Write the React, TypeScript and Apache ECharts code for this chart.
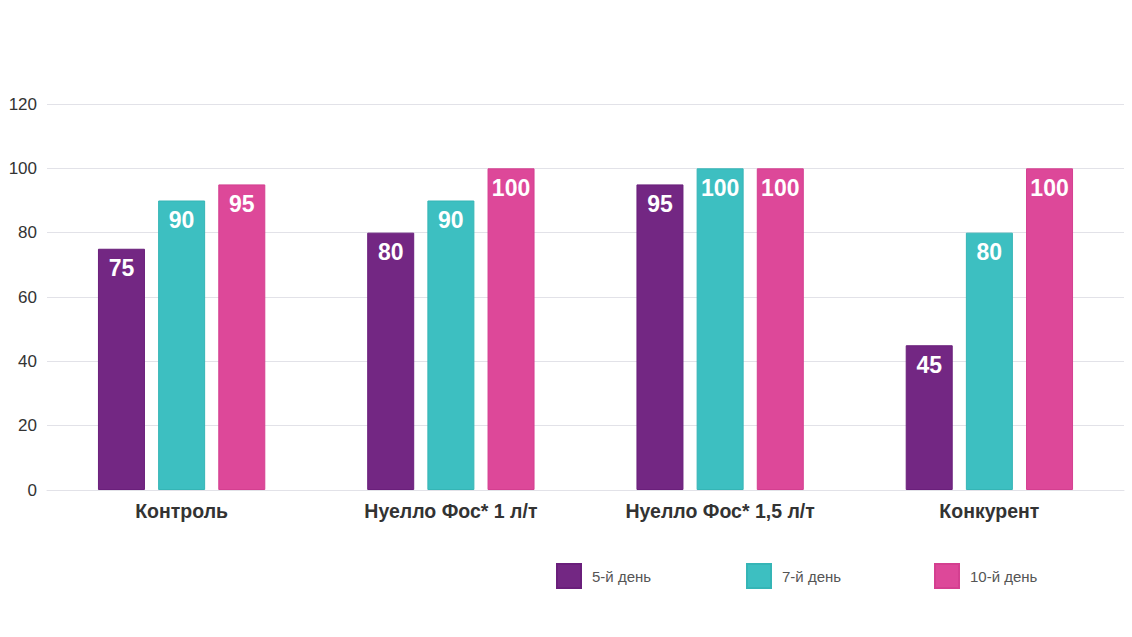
import React, { useEffect, useRef } from "react";
import * as echarts from "echarts";

const categories = ["Контроль", "Нуелло Фос* 1 л/т", "Нуелло Фос* 1,5 л/т", "Конкурент"];
const seriesNames = ["5-й день", "7-й день", "10-й день"];
const day5 = [75, 80, 95, 45];
const day7 = [90, 90, 100, 80];
const day10 = [95, 100, 100, 100];
const colors = ["#732783", "#3dbfc1", "#dd4899"];
const borders = ["#6a1f7b", "#35b5b6", "#d43f90"];

export default function App() {
  const ref = useRef<HTMLDivElement>(null);
  useEffect(() => {
    document.body.style.margin = "0";
    const chart = echarts.init(ref.current!, null, { renderer: "svg" });
    const font = "'Liberation Sans', Arial, Helvetica, sans-serif";
    const dataSets = [day5, day7, day10];
    const legendLefts = [556, 746, 934];
    chart.setOption({
      animation: false,
      grid: { left: 47, right: 8, top: 104, bottom: 147, containLabel: false },
      xAxis: {
        type: "category",
        data: categories,
        axisLine: { show: true, lineStyle: { color: "#e2e2e8", width: 1 } },
        axisTick: { show: false },
        axisLabel: { color: "#333", fontFamily: font, fontSize: 19.5, fontWeight: "bold", margin: 11 },
      },
      yAxis: {
        type: "value",
        min: 0,
        max: 120,
        interval: 20,
        axisLine: { show: false },
        axisTick: { show: false },
        splitLine: { lineStyle: { color: "#e2e2e8", width: 1 } },
        axisLabel: { color: "#333", fontFamily: font, fontSize: 17, margin: 10 },
      },
      legend: seriesNames.map((n, i) => ({
        data: [n],
        left: legendLefts[i],
        top: 563,
        padding: 0,
        itemWidth: 24,
        itemHeight: 24,
        itemGap: 0,
        icon: "rect",
        textStyle: { color: "#555", fontFamily: font, fontSize: 15, padding: [0, 0, 0, 6] },
      })),
      series: seriesNames.map((n, i) => ({
        name: n,
        type: "bar",
        data: dataSets[i],
        barWidth: 47,
        barGap: "28%",
        itemStyle: { color: colors[i], borderColor: borders[i], borderWidth: 1 },
        label: {
          show: true,
          position: "insideTop",
          distance: 8,
          color: "#fff",
          fontFamily: font,
          fontSize: 23,
          fontWeight: "bold",
        },
      })),
    });
    return () => chart.dispose();
  }, []);
  return <div ref={ref} style={{ width: 1132, height: 637 }} />;
}
